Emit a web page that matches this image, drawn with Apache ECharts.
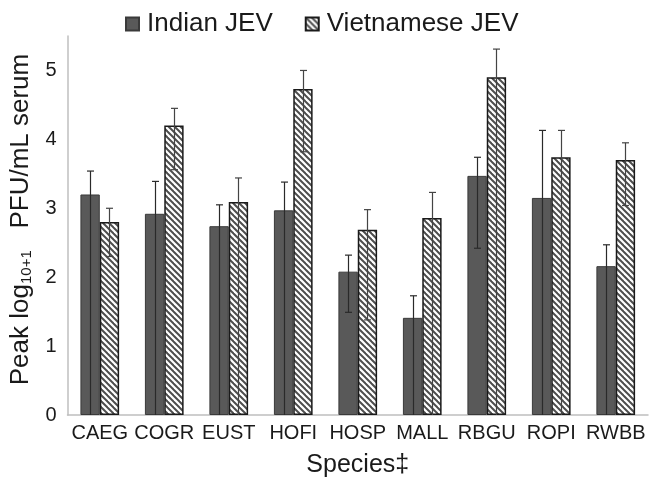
<!DOCTYPE html>
<html>
<head>
<meta charset="utf-8">
<script src="https://cdn.jsdelivr.net/npm/echarts@6/dist/echarts.min.js"></script>
<style>
html,body{margin:0;padding:0;background:#fff;}
#c{width:649px;height:483px;}
</style>
</head>
<body>
<div id="c"></div>
<script>
const categories = ['CAEG','COGR','EUST','HOFI','HOSP','MALL','RBGU','ROPI','RWBB'];
const indian      = [3.20, 2.92, 2.74, 2.97, 2.08, 1.41, 3.47, 3.15, 2.16];
const indianUpper = [3.54, 3.39, 3.05, 3.38, 2.32, 1.73, 3.74, 4.13, 2.47];
const indianLower = [0,    0,    0,    0,    1.49, 0,    2.42, 0,    0   ];
const viet        = [2.80, 4.20, 3.09, 4.73, 2.69, 2.86, 4.90, 3.74, 3.70];
const vietUpper   = [3.00, 4.45, 3.44, 5.00, 2.98, 3.23, 5.31, 4.13, 3.95];
const vietLower   = [2.30, 3.56, 0,    3.82, 1.38, 0,    0,    0,    3.04];
const yTicks      = [0, 1, 2, 3, 4, 5];

const FONT = '"Liberation Sans", Arial, sans-serif';

function hatch() {
  const s = 6;
  const cv = document.createElement('canvas');
  cv.width = s; cv.height = s;
  const ctx = cv.getContext('2d');
  ctx.fillStyle = '#ffffff';
  ctx.fillRect(0, 0, s, s);
  ctx.strokeStyle = '#4d4d4d';
  ctx.lineWidth = 2;
  for (let x0 = -s; x0 <= s; x0 += s) {
    ctx.beginPath();
    ctx.moveTo(x0 - 1, -1);
    ctx.lineTo(x0 + s + 1, s + 1);
    ctx.stroke();
  }
  return cv;
}

function errSeries(name, lower, upper, side, color) {
  return {
    type: 'custom',
    name: name + '_err',
    z: 10,
    silent: true,
    data: categories.map((c, i) => [i, lower[i], upper[i]]),
    encode: { x: 0, y: [1, 2] },
    renderItem: function (params, api) {
      const i = api.value(0);
      const hi = api.coord([i, api.value(2)]);
      const lo = api.coord([i, api.value(1)]);
      const band = api.size([1, 0])[0];
      const w = band * 0.3;
      const x = Math.round(hi[0] + side * w / 2) + 0.5;
      const cap = 3.5;
      const st = { stroke: color, lineWidth: 1.2 };
      const children = [
        { type: 'line', shape: { x1: x, y1: hi[1], x2: x, y2: lo[1] }, style: st },
        { type: 'line', shape: { x1: x - cap, y1: hi[1], x2: x + cap, y2: hi[1] }, style: st }
      ];
      if (api.value(1) > 0) {
        children.push({ type: 'line', shape: { x1: x - cap, y1: lo[1], x2: x + cap, y2: lo[1] }, style: st });
      }
      return { type: 'group', children: children };
    }
  };
}

const chart = echarts.init(document.getElementById('c'), null, { renderer: 'canvas' });
chart.setOption({
  animation: false,
  backgroundColor: '#ffffff',
  textStyle: { fontFamily: FONT },
  legend: {
    data: ['Indian JEV', 'Vietnamese JEV'],
    top: 6,
    left: 120,
    icon: 'rect',
    itemWidth: 13,
    itemHeight: 13,
    itemGap: 32,
    textStyle: { fontFamily: FONT, fontSize: 26, color: '#1a1a1a', padding: [0, 0, 0, 3] }
  },
  grid: { left: 66, right: 1, top: 36, bottom: 65.5, containLabel: false },
  xAxis: {
    type: 'category',
    data: categories,
    axisLine: { lineStyle: { color: '#bfbfbf', width: 1.5 } },
    axisTick: { show: false },
    axisLabel: { fontFamily: FONT, fontSize: 20, color: '#1a1a1a', margin: 8, interval: 0 },
    name: 'Species\u2021',
    nameLocation: 'middle',
    nameGap: 38,
    nameTextStyle: { fontFamily: FONT, fontSize: 25, color: '#1a1a1a' }
  },
  yAxis: {
    type: 'value',
    min: yTicks[0],
    max: 5.5,
    interval: 1,
    splitLine: { show: false },
    axisLine: { show: true, lineStyle: { color: '#bfbfbf', width: 1.5 } },
    axisTick: { show: false },
    axisLabel: {
      fontFamily: FONT, fontSize: 20, color: '#1a1a1a', margin: 11,
      formatter: function (v) { return yTicks.indexOf(v) >= 0 ? String(v) : ''; }
    },
    name: '{a|Peak log}{s|10+1}{a|   PFU/mL serum}',
    nameLocation: 'middle',
    nameRotate: 90,
    nameGap: 31,
    nameTextStyle: {
      padding: [0, 0, 0, 12],
      rich: {
        a: { fontFamily: FONT, fontSize: 26, color: '#1a1a1a' },
        s: { fontFamily: FONT, fontSize: 15, color: '#1a1a1a', verticalAlign: 'bottom', padding: [12, 0, 0, 0] }
      }
    }
  },
  series: [
    {
      name: 'Indian JEV',
      type: 'bar',
      data: indian,
      barWidth: '30%',
      barGap: '0%',
      itemStyle: { color: '#595959', borderColor: '#3a3a3a', borderWidth: 1 }
    },
    {
      name: 'Vietnamese JEV',
      type: 'bar',
      data: viet,
      barWidth: '30%',
      barGap: '0%',
      itemStyle: { color: { image: hatch(), repeat: 'repeat' }, borderColor: '#1a1a1a', borderWidth: 1.5 }
    },
    errSeries('Indian JEV', indianLower, indianUpper, -1, '#2a2a2a'),
    errSeries('Vietnamese JEV', vietLower, vietUpper, 1, '#444444')
  ]
});
</script>
</body>
</html>
